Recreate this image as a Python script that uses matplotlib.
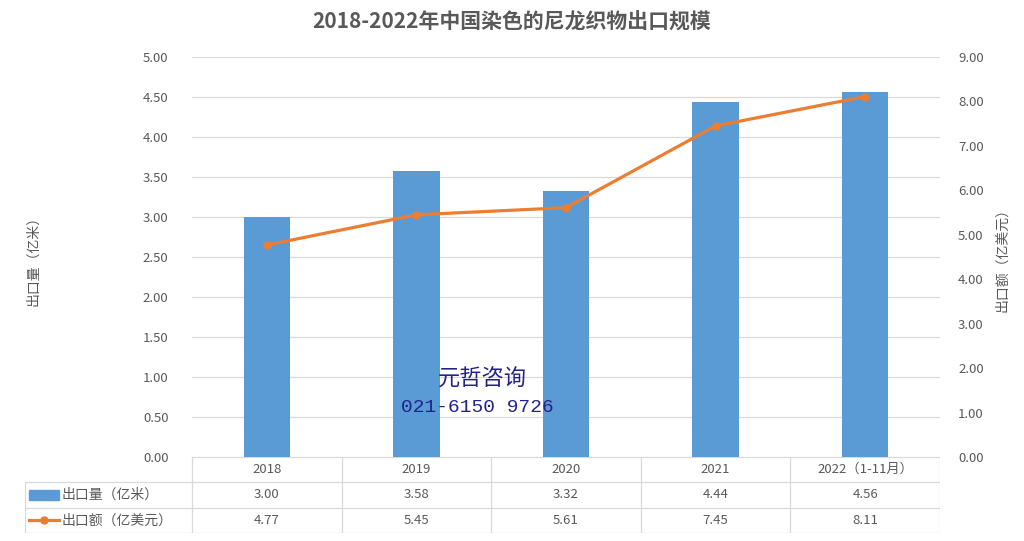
import matplotlib
matplotlib.use('Agg')
import matplotlib.pyplot as plt
from matplotlib.patches import Rectangle
from matplotlib.lines import Line2D

plt.rcParams['font.family'] = ['Noto Sans CJK SC', 'DejaVu Sans']

# data
years = ['2018', '2019', '2020', '2021', '2022（1-11月）']
volume = [3.00, 3.58, 3.32, 4.44, 4.56]   # 出口量（亿米）
value = [4.77, 5.45, 5.61, 7.45, 8.11]    # 出口额（亿美元）
vol_name = '出口量（亿米）'
val_name = '出口额（亿美元）'

bar_color = '#5B9BD5'
line_color = '#ED7D31'
text_gray = '#595959'
grid_gray = '#D9D9D9'

W, H = 1024, 541
fig = plt.figure(figsize=(W / 100, H / 100), dpi=100)

# main plot area in pixel terms
px_left, px_right, px_top, px_bottom = 192, 940, 57, 457
ax = fig.add_axes([px_left / W, 1 - px_bottom / H, (px_right - px_left) / W, (px_bottom - px_top) / H])
x = list(range(len(years)))
ax.bar(x, volume, width=0.31, color=bar_color, zorder=2)
ax.set_xlim(-0.5, len(years) - 0.5)
ax.set_ylim(0, 5)
ax.set_yticks([i * 0.5 for i in range(11)])
ax.set_yticklabels([f'{i * 0.5:.2f}' for i in range(11)])
ax.yaxis.grid(True, color=grid_gray, linewidth=0.9, zorder=0)
ax.set_axisbelow(True)
ax.set_xticks([])
ax.tick_params(axis='y', length=0, labelsize=9.5, labelcolor=text_gray, pad=17)
for s in ax.spines.values():
    s.set_visible(False)
ax.set_ylabel(vol_name, fontsize=10, color=text_gray, labelpad=74)

ax2 = ax.twinx()
ax2.plot(x, value, color=line_color, linewidth=2.3, marker='o', markersize=5, zorder=3)
ax2.set_ylim(0, 9)
ax2.set_yticks(range(10))
ax2.set_yticklabels([f'{i:.2f}' for i in range(10)])
ax2.tick_params(axis='y', length=0, labelsize=9.5, labelcolor=text_gray, pad=13)
for s in ax2.spines.values():
    s.set_visible(False)
ax2.set_ylabel(val_name, fontsize=10, color=text_gray, rotation=90, labelpad=8)

fig.text(0.5, 1 - 22 / H, '2018-2022年中国染色的尼龙织物出口规模', ha='center', va='center',
         fontsize=15, fontweight='bold', color=text_gray)

# watermark
ax.text(2 - 0.56, 0.96, '元哲咨询', ha='center', va='center', fontsize=16, color='#22228A',
        family=['Liberation Serif', 'Noto Sans CJK SC'], zorder=4)
ax.text(2 - 0.59, 0.62, '021-6150 9726', ha='center', va='center', fontsize=14, color='#22228A',
        family=['Liberation Mono', 'Noto Sans CJK SC'], zorder=4)

# data table below the plot
tbl_left, tbl_bottom = 25, 533
unit = (px_right - px_left) / len(years)
lab_w = (px_left - tbl_left) / unit
tax = fig.add_axes([tbl_left / W, 1 - tbl_bottom / H, (px_right - tbl_left) / W, (tbl_bottom - px_bottom) / H])
tax.set_xlim(-0.5 - lab_w, len(years) - 0.5)
tax.set_ylim(0, 3)
tax.axis('off')
lk = dict(color=grid_gray, linewidth=0.9)
# horizontal lines
tax.add_line(Line2D([-0.5, len(years) - 0.5], [3, 3], **lk))
for yy in [2, 1, 0]:
    tax.add_line(Line2D([-0.5 - lab_w, len(years) - 0.5], [yy, yy], **lk))
# vertical lines
tax.add_line(Line2D([-0.5 - lab_w, -0.5 - lab_w], [0, 2], **lk))
for i in range(len(years) + 1):
    tax.add_line(Line2D([i - 0.5, i - 0.5], [0, 3], **lk))

for i, yr in enumerate(years):
    tax.text(i, 2.5, yr, ha='center', va='center', fontsize=9.5, color=text_gray)
    tax.text(i, 1.5, f'{volume[i]:.2f}', ha='center', va='center', fontsize=9.5, color=text_gray)
    tax.text(i, 0.5, f'{value[i]:.2f}', ha='center', va='center', fontsize=9.5, color=text_gray)

x0 = -0.5 - lab_w
tax.add_patch(Rectangle((x0 + 0.03, 1.32), 0.2, 0.36, color=bar_color))
tax.text(x0 + 0.245, 1.5, vol_name, ha='left', va='center', fontsize=10, color=text_gray)
tax.add_line(Line2D([x0 + 0.03, x0 + 0.23], [0.5, 0.5], color=line_color, linewidth=2.3))
tax.add_line(Line2D([x0 + 0.13], [0.5], color=line_color, marker='o', markersize=5))
tax.text(x0 + 0.245, 0.5, val_name, ha='left', va='center', fontsize=10, color=text_gray)

fig.savefig('out.png', dpi=100, facecolor='white')
